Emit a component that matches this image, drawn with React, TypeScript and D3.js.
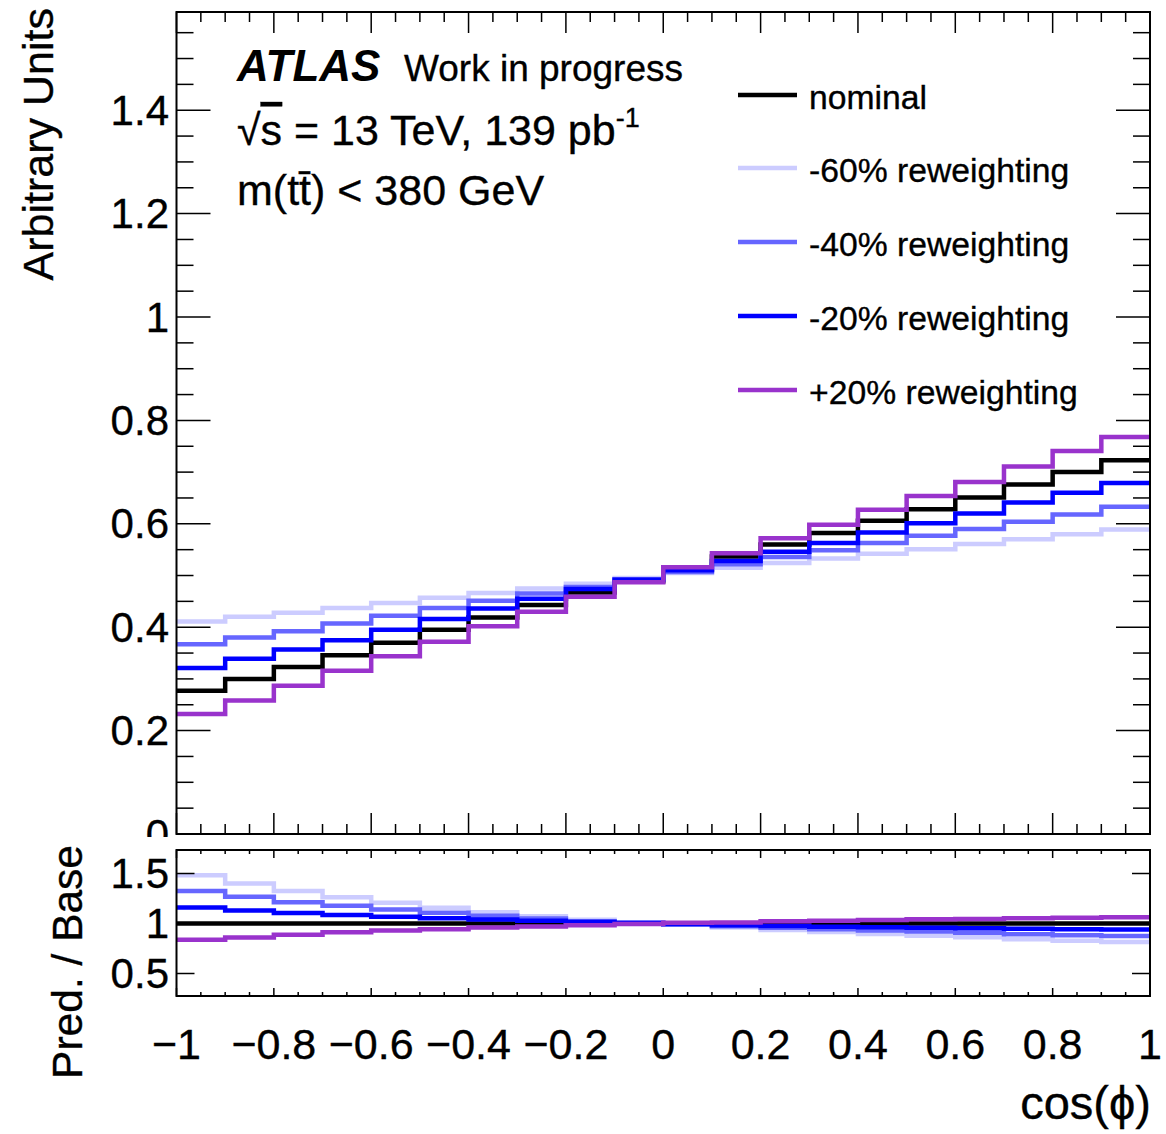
import React from "react";
import * as d3 from "d3";

const binEdges = [-1, -0.9, -0.8, -0.7, -0.6, -0.5, -0.4, -0.3, -0.2, -0.1, 0, 0.1, 0.2, 0.3, 0.4, 0.5, 0.6, 0.7, 0.8, 0.9, 1];

const nominal = [0.277, 0.300, 0.323, 0.346, 0.370, 0.395, 0.419, 0.443, 0.467, 0.489, 0.512, 0.537, 0.560, 0.582, 0.606, 0.628, 0.651, 0.676, 0.700, 0.723];
const rw60 = [0.411, 0.420, 0.428, 0.437, 0.447, 0.457, 0.466, 0.475, 0.484, 0.495, 0.505, 0.515, 0.524, 0.533, 0.542, 0.551, 0.561, 0.570, 0.580, 0.589];
const rw40 = [0.367, 0.380, 0.392, 0.407, 0.422, 0.437, 0.451, 0.465, 0.478, 0.493, 0.507, 0.522, 0.536, 0.549, 0.563, 0.577, 0.590, 0.604, 0.618, 0.633];
const rw20 = [0.321, 0.339, 0.357, 0.375, 0.395, 0.416, 0.436, 0.455, 0.474, 0.492, 0.510, 0.528, 0.546, 0.563, 0.583, 0.601, 0.620, 0.641, 0.660, 0.679];
const rwPlus20 = [0.232, 0.258, 0.287, 0.316, 0.344, 0.372, 0.402, 0.430, 0.459, 0.487, 0.516, 0.543, 0.572, 0.598, 0.627, 0.654, 0.681, 0.711, 0.741, 0.768];

const seriesNames = ["nominal", "-60% reweighting", "-40% reweighting", "-20% reweighting", "+20% reweighting"];
const seriesColors = ["#000000", "#ccccff", "#6666ff", "#0000ff", "#9933cc"];
const seriesValues = [nominal, rw60, rw40, rw20, rwPlus20];

const mainYTicks = [0, 0.2, 0.4, 0.6, 0.8, 1, 1.2, 1.4];
const mainYTickLabels = ["0", "0.2", "0.4", "0.6", "0.8", "1", "1.2", "1.4"];
const ratioYTicks = [0.5, 1, 1.5];
const ratioYTickLabels = ["0.5", "1", "1.5"];
const xTicks = [-1, -0.8, -0.6, -0.4, -0.2, 0, 0.2, 0.4, 0.6, 0.8, 1];
const xTickLabels = ["\u22121", "\u22120.8", "\u22120.6", "\u22120.4", "\u22120.2", "0", "0.2", "0.4", "0.6", "0.8", "1"];

const FONT = "'Liberation Sans', Arial, Helvetica, sans-serif";

export default function App() {
  const W = 1166, H = 1134;
  const L = 176.5, R = 1150;
  const mainTop = 12, mainBot = 834;
  const ratTop = 850, ratBot = 996;

  const x = d3.scaleLinear().domain([-1, 1]).range([L, R]);
  const y = d3.scaleLinear().domain([0, 1.59]).range([mainBot, mainTop]);
  const yr = d3.scaleLinear().domain([0.275, 1.735]).range([ratBot, ratTop]);

  const stepPath = (vals: number[], ys: d3.ScaleLinear<number, number>) => {
    const pts: [number, number][] = vals.map((v, i) => [binEdges[i], v]);
    pts.push([binEdges[binEdges.length - 1], vals[vals.length - 1]]);
    return d3.line<[number, number]>().x(d => x(d[0])).y(d => ys(d[1])).curve(d3.curveStepAfter)(pts) || "";
  };

  const xMinor = d3.range(-1, 1.0001, 0.05).map(v => +v.toFixed(2));
  const yMinor = d3.range(0, 1.5501, 0.05).map(v => +v.toFixed(2));

  const isMajor = (v: number) => Math.abs(v * 5 - Math.round(v * 5)) < 1e-6;

  const legendY = [95, 168, 242, 316, 390];
  const textStroke = { stroke: "#000", strokeWidth: 0.35 };

  return (
    <svg width={W} height={H} style={{ position: "absolute", left: 0, top: 0, background: "#fff" }} fontFamily={FONT}>
      <defs>
        <clipPath id="mainClip"><rect x={L} y={mainTop} width={R - L} height={mainBot - mainTop} /></clipPath>
        <clipPath id="ratClip"><rect x={L} y={ratTop} width={R - L} height={ratBot - ratTop} /></clipPath>
        <clipPath id="labelClip"><rect x={0} y={0} width={W} height={837} /></clipPath>
      </defs>
      <rect x={0} y={0} width={W} height={H} fill="#fff" />

      {/* main histograms */}
      <g clipPath="url(#mainClip)">
        {seriesValues.map((vals, i) => (
          <path key={i} d={stepPath(vals, y)} fill="none" stroke={seriesColors[i]} strokeWidth={4.5} />
        ))}
      </g>

      {/* main ticks */}
      <g stroke="#000" strokeWidth={1.5}>
        {xMinor.map((v, i) => {
          const len = isMajor(v) ? 21 : 10;
          return (
            <g key={"mx" + i}>
              <line x1={x(v)} x2={x(v)} y1={mainTop} y2={mainTop + len} />
              <line x1={x(v)} x2={x(v)} y1={mainBot} y2={mainBot - len} />
            </g>
          );
        })}
        {yMinor.map((v, i) => {
          const len = isMajor(v) ? 34 : 17;
          return (
            <g key={"my" + i}>
              <line x1={L} x2={L + len} y1={y(v)} y2={y(v)} />
              <line x1={R} x2={R - len} y1={y(v)} y2={y(v)} />
            </g>
          );
        })}
      </g>
      <rect x={L} y={mainTop} width={R - L} height={mainBot - mainTop} fill="none" stroke="#000" strokeWidth={2} />

      {/* main y labels */}
      <g clipPath="url(#labelClip)" fontSize={42} textAnchor="end" {...textStroke}>
        {mainYTicks.map((v, i) => (
          <text key={i} x={169} y={y(v)} dominantBaseline="central">{mainYTickLabels[i]}</text>
        ))}
      </g>
      <text transform={`translate(53,8) rotate(-90)`} textAnchor="end" fontSize={43} {...textStroke}>Arbitrary Units</text>

      {/* ATLAS label */}
      <text x={237} y={81} fontSize={44} fontWeight="bold" fontStyle="italic">ATLAS</text>
      <text x={404} y={81} fontSize={37} {...textStroke}>Work in progress</text>
      <text x={237} y={145} fontSize={43} {...textStroke}>
        <tspan>{"\u221A"}</tspan><tspan textDecoration="overline">s</tspan><tspan>{" = 13 TeV, 139 pb"}</tspan>
        <tspan fontSize={27} dy={-18}>-1</tspan>
      </text>
      <text x={237} y={205} fontSize={43} {...textStroke}>{"m(tt\u0304) < 380 GeV"}</text>

      {/* legend */}
      {seriesNames.map((name, i) => (
        <g key={"lg" + i}>
          <line x1={738} x2={797} y1={legendY[i]} y2={legendY[i]} stroke={seriesColors[i]} strokeWidth={4.5} />
          <text x={809} y={legendY[i] + 2} fontSize={33.7} dominantBaseline="central" {...textStroke}>{name}</text>
        </g>
      ))}

      {/* ratio panel */}
      <rect x={L} y={ratTop} width={R - L} height={ratBot - ratTop} fill="#fff" />
      <g clipPath="url(#ratClip)">
        {seriesValues.map((vals, i) => (
          <path key={i} d={stepPath(vals.map((v, j) => v / nominal[j]), yr)} fill="none" stroke={seriesColors[i]} strokeWidth={4.5} />
        ))}
      </g>
      <g stroke="#000" strokeWidth={1.5}>
        {xMinor.map((v, i) => {
          const len = isMajor(v) ? 8 : 4;
          return (
            <g key={"rx" + i}>
              <line x1={x(v)} x2={x(v)} y1={ratTop} y2={ratTop + len} />
              <line x1={x(v)} x2={x(v)} y1={ratBot} y2={ratBot - len} />
            </g>
          );
        })}
        {ratioYTicks.map((v, i) => (
          <g key={"ry" + i}>
            <line x1={L} x2={L + 18} y1={yr(v)} y2={yr(v)} />
            <line x1={R} x2={R - 18} y1={yr(v)} y2={yr(v)} />
          </g>
        ))}
      </g>
      <rect x={L} y={ratTop} width={R - L} height={ratBot - ratTop} fill="none" stroke="#000" strokeWidth={2} />
      <g fontSize={42} textAnchor="end" {...textStroke}>
        {ratioYTicks.map((v, i) => (
          <text key={i} x={169} y={yr(v)} dominantBaseline="central">{ratioYTickLabels[i]}</text>
        ))}
      </g>
      <text transform={`translate(82,845) rotate(-90)`} textAnchor="end" fontSize={42.5} {...textStroke}>Pred. / Base</text>
      <g fontSize={43} textAnchor="middle" {...textStroke}>
        {xTicks.map((v, i) => (
          <text key={i} x={x(v)} y={1059}>{xTickLabels[i]}</text>
        ))}
      </g>
      <text x={1151} y={1119} textAnchor="end" fontSize={47} {...textStroke}>{"cos(\u03D5)"}</text>
    </svg>
  );
}
